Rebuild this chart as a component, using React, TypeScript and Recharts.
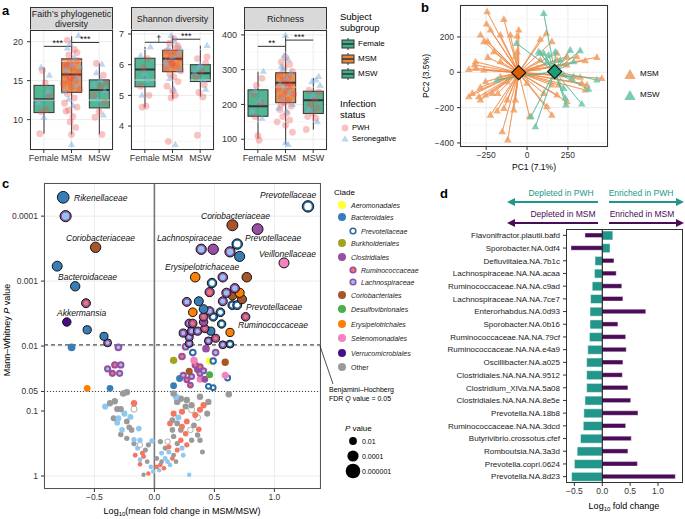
import React from "react";
import {
  ComposedChart,
  ScatterChart,
  BarChart,
  Bar,
  Scatter,
  XAxis,
  YAxis,
  CartesianGrid,
  ReferenceLine,
  ReferenceDot,
} from "recharts";

const FONT = "'Liberation Sans', Arial, Helvetica, sans-serif";
const minus = (v: number, d = 0) => v.toFixed(d).replace("-", "\u2212");

// ---------- panel a ----------
const groups = ["Female", "MSM", "MSW"];
const groupColors = ["#3FAE8A", "#E5883A", "#3FAE8A"];
// [lower whisker, q1, median, q3, upper whisker]
const faithStats = [
  [8.2, 10.9, 12.6, 14.4, 16.7],
  [8.1, 13.5, 15.8, 17.8, 20.7],
  [8.1, 11.5, 13.8, 15.1, 17.2],
];
const shannonStats = [
  [4.61, 5.28, 5.84, 6.21, 6.58],
  [4.89, 5.77, 6.19, 6.48, 6.95],
  [4.96, 5.45, 5.72, 6.0, 6.62],
];
const richnessStats = [
  [103, 166, 195, 242, 294],
  [85, 205, 262, 291, 398],
  [128, 174, 212, 238, 276],
];
// jittered subjects: [group position, value]
const faithPwh = [
  [0.95, 16.3], [1.1, 11.3], [0.9, 11.0], [0.85, 8.2], [1.2, 13.1], [1.05, 14.7],
  [1.85, 20.2], [2.1, 19.0], [1.9, 18.3], [2.2, 17.6], [1.75, 17.0], [2.05, 16.6], [2.25, 16.1],
  [1.8, 15.7], [1.95, 15.3], [2.15, 15.0], [1.7, 14.6], [2.0, 14.2], [2.3, 13.9], [1.85, 13.3],
  [2.1, 12.8], [1.75, 12.1], [2.2, 11.6], [1.9, 11.2], [1.8, 11.1], [2.05, 10.4], [1.95, 9.7],
  [2.15, 9.0], [2.0, 8.1], [1.85, 16.9], [2.1, 15.6], [1.95, 17.3], [2.2, 18.6], [1.9, 14.9],
  [2.9, 17.2], [3.15, 15.7], [3.05, 14.2], [2.8, 13.1], [3.2, 12.2], [3.0, 11.0], [2.85, 10.3],
  [3.1, 8.1], [3.25, 14.8],
];
const faithSero = [
  [0.9, 16.7], [1.15, 13.6], [0.8, 12.2], [1.0, 10.3], [1.2, 15.7],
  [2.25, 20.8], [1.95, 19.7], [2.1, 18.0], [1.8, 16.4], [2.2, 15.3], [2.0, 17.0], [1.75, 13.6],
  [2.15, 14.4], [1.9, 12.6], [2.05, 11.8], [1.85, 19.2], [2.0, 6.8], [2.3, 16.8],
  [3.1, 17.1], [2.9, 16.0], [3.2, 13.7], [2.95, 12.5], [3.05, 15.1], [2.8, 14.5], [3.15, 10.6],
];
const shannonPwh = [
  [1.1, 6.2], [0.95, 5.9], [0.85, 5.3], [1.15, 5.0], [0.9, 4.62], [1.05, 4.65],
  [2.05, 6.85], [1.9, 6.7], [2.2, 6.6], [1.8, 6.45], [2.1, 6.4], [1.95, 6.3], [2.25, 6.2],
  [1.85, 6.15], [2.0, 6.05], [2.15, 5.95], [1.75, 5.9], [2.3, 5.8], [1.9, 5.7], [2.05, 5.6],
  [2.2, 5.45], [1.8, 5.3], [2.0, 5.15], [2.1, 5.0], [1.95, 4.92], [1.85, 3.5], [2.15, 6.55],
  [1.95, 6.0],
  [2.9, 6.2], [3.2, 6.05], [3.05, 5.8], [2.85, 5.6], [3.15, 5.35], [2.95, 5.1], [3.1, 4.95],
  [2.9, 3.7], [3.25, 6.25],
];
const shannonSero = [
  [1.2, 6.58], [0.85, 6.3], [1.0, 5.7], [1.1, 5.5], [0.9, 5.0],
  [1.95, 6.95], [2.1, 6.75], [1.85, 6.55], [2.2, 6.35], [2.0, 6.25], [1.8, 6.0], [2.25, 5.85],
  [1.9, 5.55], [2.05, 5.2], [2.1, 3.4], [2.3, 6.5], [1.75, 6.1],
  [3.25, 6.62], [3.0, 6.0], [2.8, 5.75], [3.1, 5.5], [2.95, 5.9], [3.2, 5.2],
];
const richnessPwh = [
  [1.15, 275], [0.95, 255], [0.85, 230], [1.1, 205], [0.9, 165], [1.0, 110], [1.05, 97],
  [2.0, 335], [1.85, 322], [2.15, 315], [1.95, 305], [2.25, 295], [1.8, 285], [2.1, 278],
  [1.9, 270], [2.05, 262], [2.2, 255], [1.75, 245], [2.0, 238], [2.3, 230], [1.85, 222],
  [2.1, 212], [1.95, 205], [2.2, 195], [1.8, 185], [2.05, 175], [1.9, 165], [2.15, 155],
  [1.7, 150], [2.0, 140], [2.25, 120], [1.85, 200], [2.1, 250],
  [2.85, 240], [3.2, 235], [3.05, 215], [2.9, 200], [3.15, 190], [3.0, 175], [2.8, 165],
  [3.1, 160], [2.75, 128],
];
const richnessSero = [
  [1.2, 295], [0.9, 240], [1.05, 210], [0.8, 180], [1.15, 160],
  [2.0, 398], [1.95, 340], [2.1, 330], [1.85, 310], [2.2, 290], [2.05, 275], [1.8, 260],
  [1.95, 248], [2.15, 235], [1.9, 215], [2.25, 200], [1.75, 190], [2.05, 180], [2.0, 90],
  [2.1, 85], [1.9, 300],
  [3.2, 280], [3.1, 270], [2.95, 265], [3.25, 255], [3.0, 225], [2.85, 185], [3.15, 150],
];

// ---------- panel b ----------
const msmPcoa = [
  [-244, 343], [-142, 300], [-51, 240], [-248, 274], [-224, 240], [-285, 211], [-163, 211],
  [-102, 211], [-61, 206], [-264, 174], [-240, 174], [-203, 117], [-240, 85], [-315, 60],
  [-321, 42], [-356, 17], [-163, 60], [-71, 89], [-61, 117], [-254, -53], [-285, -85],
  [-356, -138], [-335, -119], [-295, -138], [-285, -157], [-254, -128], [-213, -119],
  [-179, -119], [-122, -157], [-224, -242], [-183, -219], [-142, -204], [-81, -213],
  [-71, -157], [-152, -336], [-118, -383], [16, -251], [152, -242], [122, -194], [183, -128],
  [244, -166], [102, -119], [152, -72], [193, -72], [224, -15], [285, -25], [335, -62],
  [366, -72], [356, -100], [325, -28], [427, 85], [457, -34], [356, 66], [305, 89], [244, 89],
  [183, 108], [152, 174], [118, 221], [81, 187], [183, 70], [81, 70], [61, 23], [0, -62],
  [244, 42], [-264, 13], [-315, 23], [-163, -25], [-122, -53],
];
const mswPcoa = [
  [102, 334], [-65, 164], [71, 117], [102, 108], [132, 98], [173, 117], [203, 70], [264, 126],
  [325, 123], [285, 60], [427, -43], [376, -96], [335, -179], [238, -185], [234, -147],
  [51, -308], [24, -251], [-183, -43], [274, -34], [122, 60], [81, 108], [224, -91],
];
const msmCentroid = [-51, -2];
const mswCentroid = [169, 4];

// ---------- panel c ----------
// [log10 fold change, -log10 P, clade]
const volcanoPts: [number, number, string][] = [
  [-0.76, 4.29, "bac"], [-0.74, 4.0, "lac"], [-0.49, 3.52, "cor"], [-0.81, 3.23, "bac"],
  [-0.66, 2.92, "bac"], [-0.57, 2.66, "rum"], [-0.73, 2.37, "ver"], [-0.56, 2.25, "bac"],
  [-0.42, 2.15, "bac"], [-0.39, 2.05, "lac"],
  [-0.3, 1.98, "lac"], [-0.69, 1.98, "bac"], [-0.39, 1.65, "lac"], [-0.33, 1.71, "rum"],
  [-0.28, 1.71, "lac"], [-0.35, 1.58, "rum"], [-0.29, 1.58, "lac"], [-0.56, 1.35, "ery"],
  [-0.37, 1.35, "bac"],
  [1.28, 4.15, "prev"], [0.65, 3.86, "cor"], [0.86, 3.8, "clos"], [0.39, 3.49, "lac"],
  [0.49, 3.49, "clos"], [0.69, 3.57, "prev"], [0.63, 3.45, "lac"], [0.71, 3.38, "bac"],
  [1.08, 3.28, "sel"], [0.34, 3.06, "ery"], [0.57, 3.06, "lac"], [0.77, 3.06, "cor"],
  [0.48, 2.97, "prev"], [0.46, 2.83, "rum"], [0.67, 2.89, "lac"], [0.6, 2.82, "lac"],
  [0.71, 2.82, "ery"], [0.65, 2.78, "cor"], [0.73, 2.72, "cor"], [0.27, 2.68, "lac"],
  [0.37, 2.69, "bac"], [0.57, 2.69, "lac"], [0.65, 2.63, "prev"], [0.69, 2.63, "prev"],
  [0.41, 2.57, "bac"], [0.32, 2.52, "ery"], [0.46, 2.54, "lac"], [0.55, 2.52, "prev"],
  [0.41, 2.45, "rum"], [0.49, 2.45, "prev"], [0.76, 2.45, "rum"], [0.29, 2.35, "lac"],
  [0.32, 2.35, "rum"], [0.41, 2.37, "clos"], [0.56, 2.34, "prev"], [0.31, 2.23, "lac"],
  [0.36, 2.23, "lac"], [0.42, 2.27, "rum"], [0.47, 2.23, "bac"], [0.63, 2.21, "ery"],
  [0.51, 2.12, "rum"], [0.29, 2.14, "lac"], [0.24, 2.2, "lac"], [0.45, 2.08, "lac"],
  [0.29, 2.04, "lac"], [0.57, 2.02, "lac"], [0.63, 2.03, "prev"],
  [0.26, 1.99, "lac"], [0.43, 1.96, "clos"], [0.51, 1.9, "lac"], [0.32, 1.9, "prev"],
  [0.16, 1.78, "burk"], [0.23, 1.84, "rum"], [0.33, 1.78, "sel"], [0.46, 1.77, "aer"],
  [0.49, 1.77, "prev"], [0.59, 1.75, "cor"], [0.34, 1.71, "rum"], [0.38, 1.68, "rum"],
  [0.41, 1.62, "lac"], [0.36, 1.64, "clos"], [0.29, 1.61, "cor"], [0.24, 1.55, "lac"],
  [0.46, 1.56, "des"], [0.38, 1.49, "sel"], [0.59, 1.55, "sel"], [0.61, 1.51, "prev"],
  [0.16, 1.39, "bac"], [0.21, 1.5, "bac"], [0.3, 1.4, "rum"], [0.45, 1.38, "prev"],
  [0.49, 1.36, "prev"], [0.42, 1.49, "clos"], [0.27, 1.48, "rum"], [0.31, 1.53, "lac"],
  [0.38, 1.58, "lac"],
  [-0.23, 1.29, "oth"], [-0.26, 1.27, "oth"], [-0.33, 1.15, "oth"], [-0.41, 1.07, "lac"],
  [-0.37, 1.12, "oth"], [-0.31, 1.03, "oth"], [-0.28, 1.03, "oth"], [-0.25, 0.96, "lac"],
  [-0.34, 0.89, "oth"], [-0.31, 0.82, "lac"], [-0.23, 0.84, "oth"], [-0.21, 0.75, "oth"],
  [-0.17, 1.12, "rum"], [-0.17, 1.03, "prev"], [-0.13, 0.73, "lac"], [-0.28, 0.64, "oth"],
  [-0.23, 0.58, "oth"], [-0.17, 0.56, "lac"], [-0.12, 0.55, "lac"], [-0.05, 0.48, "oth"],
  [-0.17, 0.5, "oth"], [-0.12, 0.48, "prev"], [-0.14, 0.43, "lac"], [-0.1, 0.35, "rum"],
  [-0.09, 0.3, "rum"], [-0.06, 0.22, "oth"], [-0.12, 0.18, "rum"], [-0.12, 0.25, "lac"],
  [-0.03, 0.14, "lac"], [-0.01, 0.07, "lac"], [0.04, 0.09, "lac"], [-0.05, 0.04, "rum"],
  [-0.09, 0.02, "oth"], [-0.02, 0.54, "lac"], [-0.2, 0.91, "lac"], [-0.19, 0.71, "oth"],
  [-0.3, 0.89, "lac"], [-0.27, 0.71, "lac"], [-0.16, 0.32, "rum"], [-0.075, 0.4, "oth"],
  [0.16, 1.27, "oth"], [0.18, 1.22, "lac"], [0.19, 1.14, "oth"], [0.22, 1.19, "oth"],
  [0.27, 1.17, "oth"], [0.31, 1.09, "oth"], [0.38, 1.22, "oth"], [0.45, 1.14, "oth"],
  [0.31, 1.02, "prev"], [0.36, 0.9, "prev"], [0.38, 1.02, "rum"], [0.23, 0.99, "rum"],
  [0.16, 0.96, "rum"], [0.15, 0.86, "oth"], [0.19, 0.81, "oth"], [0.23, 0.76, "rum"],
  [0.27, 0.84, "rum"], [0.3, 0.71, "prev"], [0.36, 0.63, "oth"], [0.38, 0.55, "oth"],
  [0.15, 0.71, "oth"], [0.16, 0.61, "oth"], [0.11, 0.53, "prev"], [0.22, 0.55, "rum"],
  [0.05, 0.53, "oth"], [0.12, 0.45, "rum"], [0.09, 0.43, "oth"], [0.19, 0.4, "rum"],
  [0.23, 0.43, "lac"], [0.16, 0.32, "oth"], [0.09, 0.27, "lac"], [0.06, 0.22, "oth"],
  [0.05, 0.17, "rum"], [0.13, 0.17, "lac"], [0.02, 0.14, "rum"], [0.29, 0.02, "lac"],
  [0.4, 0.37, "oth"], [0.24, 0.32, "lac"], [0.15, 0.27, "rum"], [0.26, 1.07, "oth"],
  [0.34, 0.94, "rum"], [0.41, 1.09, "rum"], [0.44, 0.96, "oth"], [0.2, 0.9, "lac"],
  [0.26, 0.65, "rum"], [0.31, 0.55, "oth"], [0.19, 0.5, "oth"], [0.27, 0.48, "rum"],
  [0.06, 0.35, "lac"], [0.11, 0.22, "lac"], [0.08, 0.12, "rum"], [0.18, 0.22, "oth"],
  [0.22, 0.71, "oth"], [0.13, 0.81, "rum"], [0.33, 0.78, "oth"], [0.37, 0.72, "rum"],
  [0.02, 0.27, "oth"], [0.12, 0.37, "lac"], [0.62, 1.26, "oth"],
];
const pTicks = [1, 0.1, 0.05, 0.01, 0.001, 0.0001];
const fdrP = 0.0096;

const clades: Record<string, { name: string; fill: string; center?: string; sub?: boolean }> = {
  aer: { name: "Aeromonadales", fill: "#FFFF33" },
  bac: { name: "Bacteroidales", fill: "#377EB8" },
  prev: { name: "Prevotellaceae", fill: "#2B6CA3", center: "#FFFFFF", sub: true },
  burk: { name: "Burkholderiales", fill: "#A2A41E" },
  clos: { name: "Clostridiales", fill: "#984EA3" },
  rum: { name: "Ruminococcaceae", fill: "#984EA3", center: "#F47560", sub: true },
  lac: { name: "Lachnospiraceae", fill: "#984EA3", center: "#8EC8F0", sub: true },
  cor: { name: "Coriobacteriales", fill: "#A65628" },
  des: { name: "Desulfovibrionales", fill: "#4DAF4A" },
  ery: { name: "Erysipelotrichales", fill: "#FF7F00" },
  sel: { name: "Selenomonadales", fill: "#F781BF" },
  ver: { name: "Verrucomicrobiales", fill: "#4A0D8A" },
  oth: { name: "Other", fill: "#9A9A9A" },
};
const cladeOrder = ["aer", "bac", "prev", "burk", "clos", "rum", "lac", "cor", "des", "ery", "sel", "ver", "oth"];
const sizeLegendP = [0.01, 0.0001, 0.000001];

// ---------- panel d ----------
const dTaxa = [
  "Flavonifractor.plautii.bafd", "Sporobacter.NA.0df4", "Defluviitalea.NA.7b1c",
  "Lachnospiraceae.NA.NA.acaa", "Ruminococcaceae.NA.NA.c9ad", "Lachnospiraceae.NA.NA.7ce7",
  "Enterorhabdus.NA.0d93", "Sporobacter.NA.0b16", "Ruminococcaceae.NA.NA.79cf",
  "Ruminococcaceae.NA.NA.e4a9", "Oscillibacter.NA.a025", "Clostridiales.NA.NA.NA.9512",
  "Clostridium_XlVa.NA.5a08", "Clostridiales.NA.NA.NA.8e5e", "Prevotella.NA.18b8",
  "Ruminococcaceae.NA.NA.3dcd", "Butyrivibrio.crossotus.cfef", "Romboutsia.NA.3a3d",
  "Prevotella.copri.0624", "Prevotella.NA.8d23",
];
const dPwh = [0.19, 0.14, -0.13, -0.14, -0.18, -0.21, -0.22, -0.22, -0.23, -0.26, -0.28, -0.28, -0.28, -0.31, -0.33, -0.34, -0.39, -0.45, -0.5, -0.55];
const dMsm = [-0.31, -0.56, 0.21, 0.25, 0.35, 0.37, 0.78, 0.28, 0.42, 0.43, 0.37, 0.36, 0.46, 0.51, 0.64, 0.42, 0.52, 0.46, 0.63, 1.31];

const TEAL = "#23968B";
const PURPLE = "#4A0B57";

// ---------- helpers ----------
const Txt = ({ x, y, children, size = 9, anchor = "start", italic = false, color = "#000", bold = false, rotate = false }: any) => {
  const tx = anchor === "middle" ? "-50%" : anchor === "end" ? "-100%" : "0";
  return (
    <div
      style={{
        position: "absolute",
        left: x,
        top: y,
        fontSize: size,
        fontStyle: italic ? "italic" : "normal",
        fontWeight: bold ? 700 : 400,
        color,
        whiteSpace: "nowrap",
        lineHeight: 1,
        transform: rotate ? "translate(-50%,-50%) rotate(-90deg)" : `translate(${tx},-50%)`,
      }}
    >
      {children}
    </div>
  );
};

const Frame = ({ left, top, width, height, color = "#333" }: any) => (
  <div style={{ position: "absolute", left, top, width, height, border: `1px solid ${color}`, boxSizing: "border-box", pointerEvents: "none" }} />
);

const triPath = (cx: number, cy: number, s: number) =>
  `M${cx},${cy - s} L${cx + s * 0.95},${cy + s * 0.65} L${cx - s * 0.95},${cy + s * 0.65} Z`;

const BoxShape = (p: any) => {
  const { x, y, width, height } = p;
  const d = p.payload || p;
  const top = Math.min(y, y + height);
  const h = Math.abs(height);
  const my = top + (h * (d.q3 - d.med)) / (d.q3 - d.q1);
  return (
    <g>
      <rect x={x} y={top} width={width} height={h} fill={d.fill} fillOpacity={0.9} stroke="#333" strokeWidth={1} />
      <line x1={x} x2={x + width} y1={my} y2={my} stroke="#333" strokeWidth={2} />
    </g>
  );
};

const WhiskerShape = (p: any) => {
  const { x, y, width, height } = p;
  const top = Math.min(y, y + height);
  const cx = x + width / 2;
  return <line x1={cx} x2={cx} y1={top} y2={top + Math.abs(height)} stroke="#333" strokeWidth={1} />;
};

const PwhDot = (p: any) => <circle cx={p.cx} cy={p.cy} r={3.4} fill="#EE4A4A" fillOpacity={0.33} />;
const SeroTri = (p: any) => <path d={triPath(p.cx, p.cy, 3.8)} fill="#7FAEDF" fillOpacity={0.5} />;

// plot area of every facet in panel a
const A_TOP = 30;
const A_BOTTOM = 150;

const Facet = ({ left, title, stats, pwh, sero, domain, ticks, minor, sig }: any) => {
  const data = groups.map((g, i) => ({
    group: g,
    whisk: [stats[i][0], stats[i][4]],
    box: [stats[i][1], stats[i][3]],
    q1: stats[i][1],
    med: stats[i][2],
    q3: stats[i][3],
    fill: groupColors[i],
  }));
  const pwhPts = pwh.map(([x, y]: number[]) => ({ x, y }));
  const seroPts = sero.map(([x, y]: number[]) => ({ x, y }));
  return (
    <>
      <div
        style={{
          position: "absolute",
          left: left + 30,
          top: 7,
          width: 83,
          height: A_TOP - 7 + 1,
          background: "#D9D9D9",
          border: "1px solid #333",
          boxSizing: "border-box",
          fontSize: 9,
          lineHeight: "10px",
          textAlign: "center",
          display: "flex",
          flexDirection: "column",
          justifyContent: "center",
          color: "#1a1a1a",
        }}
      >
        {title.map((t: string) => (
          <div key={t}>{t}</div>
        ))}
      </div>
      <div style={{ position: "absolute", left, top: 0 }}>
        <ComposedChart width={114} height={A_BOTTOM + 17} data={data} margin={{ top: A_TOP, right: 1, bottom: 0, left: 0 }}>
          <CartesianGrid xAxisId="cat" stroke="#EBEBEB" strokeWidth={1} />
          {minor.map((m: number) => (
            <ReferenceLine key={m} y={m} xAxisId="cat" stroke="#F3F3F3" strokeWidth={0.7} />
          ))}
          <XAxis
            xAxisId="cat"
            dataKey="group"
            type="category"
            interval={0}
            height={17}
            axisLine={false}
            tickSize={3}
            tickMargin={2}
            tickLine={{ stroke: "#333" }}
            tick={{ fontSize: 9, fill: "#333", fontFamily: FONT }}
          />
          <XAxis xAxisId="w" dataKey="group" type="category" hide />
          <XAxis xAxisId="num" dataKey="x" type="number" domain={[0.5, 3.5]} allowDataOverflow hide />
          <YAxis
            dataKey="y"
            type="number"
            domain={domain}
            ticks={ticks}
            allowDataOverflow
            width={30}
            axisLine={false}
            tickSize={3}
            tickMargin={4}
            tickLine={{ stroke: "#333" }}
            tick={{ fontSize: 9, fill: "#333", fontFamily: FONT }}
          />
          <Bar xAxisId="w" dataKey="whisk" barSize={20} shape={WhiskerShape} isAnimationActive={false} />
          <Bar xAxisId="cat" dataKey="box" barSize={20} shape={BoxShape} isAnimationActive={false} />
          <Scatter xAxisId="num" data={pwhPts} dataKey="y" shape={PwhDot} isAnimationActive={false} />
          <Scatter xAxisId="num" data={seroPts} dataKey="y" shape={SeroTri} isAnimationActive={false} />
          {sig.map((s: any) => (
            <ReferenceLine
              key={`l${s.from}`}
              xAxisId="num"
              segment={[
                { x: s.from, y: s.y },
                { x: s.to, y: s.y },
              ]}
              stroke="#333"
              strokeWidth={1}
            />
          ))}
          {sig.map((s: any) => (
            <ReferenceDot
              key={`d${s.from}`}
              xAxisId="num"
              x={(s.from + s.to) / 2}
              y={s.y}
              r={1}
              fill="none"
              stroke="none"
              label={{ value: s.label, position: "top", offset: -1, fontSize: 9, fill: "#111" }}
            />
          ))}
        </ComposedChart>
      </div>
      <Frame left={left + 30} top={A_TOP} width={83} height={A_BOTTOM - A_TOP} />
    </>
  );
};

const Spokes = (pts: number[][], c: number[]) => {
  const out: { x: number; y: number }[] = [];
  pts.forEach(([x, y]) => {
    out.push({ x: c[0], y: c[1] });
    out.push({ x, y });
  });
  return out;
};

const Empty = () => <g />;
const OrangeTri = (p: any) => <path d={triPath(p.cx, p.cy, 4)} fill="#F09A5A" fillOpacity={0.8} />;
const TealTri = (p: any) => <path d={triPath(p.cx, p.cy, 4)} fill="#66C2A5" fillOpacity={0.8} />;
const Diamond = (p: any) => (
  <path
    d={`M${p.cx},${p.cy - 7} L${p.cx + 7},${p.cy} L${p.cx},${p.cy + 7} L${p.cx - 7},${p.cy} Z`}
    fill={p.payload.fill}
    stroke="#111"
    strokeWidth={1.2}
  />
);

const VolcanoDot = (p: any) => {
  const { cx, cy, payload } = p;
  if (cx == null || cy == null) return <g />;
  const c = clades[payload.clade];
  const r = 2.2 + 0.85 * Math.max(payload.nlp, 0);
  if (payload.nlp < -Math.log10(0.05)) {
    const fill = c.center ?? c.fill;
    return (
      <circle cx={cx} cy={cy} r={r} fill={fill} stroke={fill === "#FFFFFF" ? "#999" : "none"} strokeWidth={0.8} />
    );
  }
  const outline = payload.nlp >= -Math.log10(fdrP);
  return (
    <g>
      <circle cx={cx} cy={cy} r={r} fill={c.fill} stroke={outline ? "#111" : "none"} strokeWidth={1} />
      {c.center && <circle cx={cx} cy={cy} r={Math.max(r - 2, 1)} fill={c.center} />}
    </g>
  );
};

const axisTick = { fontSize: 8.5, fill: "#333", fontFamily: FONT };

export default function App() {
  const msmSpokes = Spokes(msmPcoa, msmCentroid);
  const mswSpokes = Spokes(mswPcoa, mswCentroid);
  const volcano = volcanoPts
    .map(([fc, nlp, clade]) => ({ fc, nlp, clade }))
    .sort((a, b) => a.nlp - b.nlp);
  const pTickPos = pTicks.map((p) => -Math.log10(p));
  const dRows = dTaxa.map((name, i) => ({ name, pwh: dPwh[i], msm: dMsm[i] }));
  const legendY = [44, 59, 74];

  return (
    <div style={{ position: "absolute", left: 0, top: 0, width: 685, height: 519, background: "#fff", fontFamily: FONT, overflow: "hidden" }}>
      {/* panel a */}
      <Facet
        left={0}
        title={["Faith\u2019s phylogenetic", "diversity"]}
        stats={faithStats}
        pwh={faithPwh}
        sero={faithSero}
        domain={[6.1, 21.5]}
        ticks={[10, 15, 20]}
        minor={[7.5, 12.5, 17.5]}
        sig={[
          { from: 1, to: 2, y: 19.4, label: "***" },
          { from: 2, to: 3, y: 19.9, label: "***" },
        ]}
      />
      <Facet
        left={101}
        title={["Shannon diversity"]}
        stats={shannonStats}
        pwh={shannonPwh}
        sero={shannonSero}
        domain={[3.22, 7.13]}
        ticks={[4, 5, 6, 7]}
        minor={[3.5, 4.5, 5.5, 6.5]}
        sig={[
          { from: 1, to: 2, y: 6.73, label: "\u2020" },
          { from: 2, to: 3, y: 6.83, label: "***" },
        ]}
      />
      <Facet
        left={214}
        title={["Richness"]}
        stats={richnessStats}
        pwh={richnessPwh}
        sero={richnessSero}
        domain={[69, 414]}
        ticks={[100, 200, 300, 400]}
        minor={[150, 250, 350]}
        sig={[
          { from: 1, to: 2, y: 367, label: "**" },
          { from: 2, to: 3, y: 385, label: "***" },
        ]}
      />

      {/* panel b */}
      <div style={{ position: "absolute", left: 420, top: 0 }}>
        <ScatterChart width={189} height={161} margin={{ top: 5, right: 1, bottom: 0, left: 0 }}>
          <CartesianGrid stroke="#EBEBEB" />
          {[-375, -125, 125, 375].map((m) => (
            <ReferenceLine key={`x${m}`} x={m} stroke="#F3F3F3" strokeWidth={0.7} />
          ))}
          {[-300, -100, 100, 300].map((m) => (
            <ReferenceLine key={`y${m}`} y={m} stroke="#F3F3F3" strokeWidth={0.7} />
          ))}
          <XAxis
            type="number"
            dataKey="x"
            domain={[-410, 495]}
            ticks={[-250, 0, 250]}
            allowDataOverflow
            height={14}
            axisLine={false}
            tickSize={3}
            tickMargin={2}
            tickLine={{ stroke: "#333" }}
            tickFormatter={(v) => minus(v)}
            tick={axisTick}
          />
          <YAxis
            type="number"
            dataKey="y"
            domain={[-423, 381]}
            ticks={[-400, -200, 0, 200]}
            allowDataOverflow
            width={40}
            axisLine={false}
            tickSize={3}
            tickMargin={3}
            tickLine={{ stroke: "#333" }}
            tickFormatter={(v) => minus(v)}
            tick={axisTick}
          />
          <Scatter data={msmSpokes} shape={Empty} line={{ stroke: "#EE8A45", strokeWidth: 0.8, strokeOpacity: 0.75 }} isAnimationActive={false} />
          <Scatter data={msmPcoa.map(([x, y]) => ({ x, y }))} shape={OrangeTri} isAnimationActive={false} />
          <Scatter data={mswSpokes} shape={Empty} line={{ stroke: "#4DB893", strokeWidth: 0.8, strokeOpacity: 0.75 }} isAnimationActive={false} />
          <Scatter data={mswPcoa.map(([x, y]) => ({ x, y }))} shape={TealTri} isAnimationActive={false} />
          <Scatter
            data={[
              { x: msmCentroid[0], y: msmCentroid[1], fill: "#D95F02" },
              { x: mswCentroid[0], y: mswCentroid[1], fill: "#1B9E77" },
            ]}
            shape={Diamond}
            isAnimationActive={false}
          />
        </ScatterChart>
      </div>
      <Frame left={460} top={5} width={148} height={142} />

      {/* panel c */}
      <div style={{ position: "absolute", left: 0, top: 178 }}>
        <ScatterChart width={321} height={325} margin={{ top: 5, right: 1, bottom: 0, left: 0 }}>
          <CartesianGrid stroke="#EBEBEB" />
          <XAxis
            type="number"
            dataKey="fc"
            domain={[-0.92, 1.38]}
            ticks={[-0.5, 0, 0.5, 1]}
            allowDataOverflow
            height={14}
            axisLine={false}
            tickSize={3}
            tickMargin={2}
            tickLine={{ stroke: "#333" }}
            tickFormatter={(v) => minus(v, 1)}
            tick={axisTick}
          />
          <YAxis
            type="number"
            dataKey="nlp"
            domain={[-0.2, 4.51]}
            ticks={pTickPos}
            allowDataOverflow
            width={44}
            axisLine={false}
            tickSize={3}
            tickMargin={3}
            tickLine={{ stroke: "#333" }}
            tickFormatter={(v) => String(pTicks[pTickPos.findIndex((t) => Math.abs(t - v) < 1e-6)] ?? "")}
            tick={axisTick}
          />
          <ReferenceLine x={0} stroke="#777" strokeWidth={1.6} />
          <ReferenceLine y={-Math.log10(fdrP)} stroke="#222" strokeDasharray="4 3" />
          <ReferenceLine y={-Math.log10(0.05)} stroke="#444" strokeDasharray="1 2" />
          <Scatter data={volcano} shape={VolcanoDot} isAnimationActive={false} />
        </ScatterChart>
      </div>
      <Frame left={44} top={183} width={277} height={306} color="#555" />

      {/* panel d */}
      <div style={{ position: "absolute", left: 440, top: 224 }}>
        <BarChart layout="vertical" width={243} height={273} data={dRows} margin={{ top: 5, right: 1, bottom: 0, left: 0 }}>
          <XAxis
            type="number"
            domain={[-0.65, 1.43]}
            ticks={[-0.5, 0, 0.5, 1]}
            allowDataOverflow
            height={14}
            axisLine={false}
            tickSize={3}
            tickMargin={2}
            tickLine={{ stroke: "#333" }}
            tickFormatter={(v) => minus(v, 1)}
            tick={axisTick}
          />
          <YAxis
            yAxisId="a"
            type="category"
            dataKey="name"
            interval={0}
            width={126}
            axisLine={false}
            tickSize={3}
            tickMargin={3}
            tickLine={{ stroke: "#333" }}
            tick={{ fontSize: 8, fill: "#222", fontFamily: FONT }}
          />
          <YAxis yAxisId="b" type="category" dataKey="name" hide />
          <Bar yAxisId="a" dataKey="pwh" barSize={9} fill={TEAL} stroke="#fff" strokeWidth={0.5} isAnimationActive={false} />
          <Bar yAxisId="b" dataKey="msm" barSize={4.5} fill={PURPLE} stroke="#fff" strokeWidth={0.4} isAnimationActive={false} />
          <ReferenceLine x={0} yAxisId="a" stroke="#000" strokeWidth={1} />
        </BarChart>
      </div>
      <Frame left={566} top={229} width={117} height={254} />

      {/* overlay graphics */}
      <svg width={685} height={519} style={{ position: "absolute", left: 0, top: 0, pointerEvents: "none" }}>
        <defs>
          <marker id="ahT" markerWidth="8" markerHeight="8" refX="6" refY="4" orient="auto-start-reverse" markerUnits="userSpaceOnUse">
            <path d="M0,0 L8,4 L0,8 Z" fill={TEAL} />
          </marker>
          <marker id="ahP" markerWidth="8" markerHeight="8" refX="6" refY="4" orient="auto-start-reverse" markerUnits="userSpaceOnUse">
            <path d="M0,0 L8,4 L0,8 Z" fill={PURPLE} />
          </marker>
        </defs>
        <line x1={509} y1={202} x2={598} y2={202} stroke={TEAL} strokeWidth={2} markerStart="url(#ahT)" />
        <line x1={609} y1={202} x2={682} y2={202} stroke={TEAL} strokeWidth={2} markerEnd="url(#ahT)" />
        <line x1={509} y1={223} x2={598} y2={223} stroke={PURPLE} strokeWidth={2} markerStart="url(#ahP)" />
        <line x1={609} y1={223} x2={682} y2={223} stroke={PURPLE} strokeWidth={2} markerEnd="url(#ahP)" />
        {/* FDR leader */}
        <line x1={320} y1={346} x2={333} y2={384} stroke="#222" strokeWidth={0.8} />
        {/* legend a keys */}
        {legendY.map((y, i) => (
          <g key={y}>
            <line x1={348} x2={348} y1={y - 6} y2={y + 6} stroke="#333" />
            <rect x={342} y={y - 4} width={12} height={8} fill={groupColors[i]} stroke="#333" />
            <line x1={342} x2={354} y1={y} y2={y} stroke="#333" strokeWidth={1.5} />
          </g>
        ))}
        <circle cx={345} cy={128} r={3.4} fill="#EE4A4A" fillOpacity={0.33} />
        <path d={triPath(345, 139, 3.8)} fill="#7FAEDF" fillOpacity={0.5} />
        {/* legend b */}
        <path d={triPath(630, 75, 6)} fill="#F09A5A" fillOpacity={0.85} />
        <path d={triPath(630, 96, 6)} fill="#66C2A5" fillOpacity={0.85} />
        {/* legend c clade keys */}
        {cladeOrder.map((k, i) => {
          const c = clades[k];
          const ys = [205, 217, 231, 243, 257, 270, 282, 295, 309, 324, 338, 353, 367];
          const cx = c.sub ? 353 : 342;
          return c.sub ? (
            <g key={k}>
              <circle cx={cx} cy={ys[i]} r={3.6} fill={c.fill} />
              <circle cx={cx} cy={ys[i]} r={2} fill={c.center} />
            </g>
          ) : (
            <circle key={k} cx={cx} cy={ys[i]} r={4} fill={c.fill} />
          );
        })}
        {sizeLegendP.map((p, i) => (
          <circle key={p} cx={353} cy={[441, 456, 471][i]} r={2.2 + 0.85 * -Math.log10(p)} fill="#000" />
        ))}
      </svg>

      {/* panel letters */}
      <Txt x={2} y={10} size={13} bold>a</Txt>
      <Txt x={421} y={7} size={13} bold>b</Txt>
      <Txt x={2} y={183} size={13} bold>c</Txt>
      <Txt x={440} y={193} size={13} bold>d</Txt>

      {/* legend a */}
      <Txt x={340} y={17} size={9.5}>Subject</Txt>
      <Txt x={340} y={28} size={9.5}>subgroup</Txt>
      {groups.map((g, i) => (
        <Txt key={g} x={358} y={legendY[i]} size={8}>{g}</Txt>
      ))}
      <Txt x={340} y={104} size={9.5}>Infection</Txt>
      <Txt x={340} y={115} size={9.5}>status</Txt>
      <Txt x={352} y={128} size={7.5}>PWH</Txt>
      <Txt x={352} y={139} size={7.5}>Seronegative</Txt>

      {/* panel b titles and legend */}
      <Txt x={534} y={167} size={8.5} anchor="middle">PC1 (7.1%)</Txt>
      <Txt x={426} y={76} size={8.5} rotate>PC2 (3.5%)</Txt>
      <Txt x={640} y={74} size={8}>MSM</Txt>
      <Txt x={640} y={95} size={8}>MSW</Txt>

      {/* panel c labels */}
      {[
        ["Rikenellaceae", 74, 198],
        ["Coriobacteriaceae", 66, 238],
        ["Bacteroidaceae", 58, 277],
        ["Akkermansia", 57, 313],
        ["Prevotellaceae", 260, 195],
        ["Coriobacteriaceae", 201, 216],
        ["Lachnospiraceae", 157, 238],
        ["Prevotellaceae", 245, 238],
        ["Veillonellaceae", 259, 254],
        ["Erysipelotrichaceae", 165, 267],
        ["Prevotellaceae", 246, 307],
        ["Ruminococcaceae", 238, 325],
      ].map(([t, x, y]) => (
        <Txt key={`${t}${x}`} x={x} y={y} size={8.5} italic color="#111">{t}</Txt>
      ))}
      <Txt x={182} y={512} size={9} anchor="middle">
        Log<sub style={{ fontSize: 6 }}>10</sub>(mean fold change in MSM/MSW)
      </Txt>
      <Txt x={7} y={330} size={9} rotate>
        Mann–Whitney <i>P</i> value
      </Txt>
      <Txt x={329} y={389} size={7}>Benjamini–Hochberg</Txt>
      <Txt x={329} y={398} size={7}>
        FDR <i>Q</i> value = 0.05
      </Txt>

      {/* legend c */}
      <Txt x={334} y={193} size={8}>Clade</Txt>
      {cladeOrder.map((k, i) => {
        const c = clades[k];
        const ys = [205, 217, 231, 243, 257, 270, 282, 295, 309, 324, 338, 353, 367];
        return (
          <Txt key={k} x={c.sub ? 361 : 351} y={ys[i]} size={7} italic={k !== "oth"} color="#222">
            {c.name}
          </Txt>
        );
      })}
      <Txt x={345} y={429} size={8}>
        <i>P</i> value
      </Txt>
      {sizeLegendP.map((p, i) => (
        <Txt key={p} x={362} y={[441, 456, 471][i]} size={7}>
          {p === 0.000001 ? "0.000001" : String(p)}
        </Txt>
      ))}

      {/* panel d annotations */}
      <Txt x={561} y={193} size={8.5} anchor="middle" color={TEAL}>Depleted in PWH</Txt>
      <Txt x={641} y={193} size={8.5} anchor="middle" color={TEAL}>Enriched in PWH</Txt>
      <Txt x={563} y={214} size={8.5} anchor="middle" color={PURPLE}>Depleted in MSM</Txt>
      <Txt x={642} y={214} size={8.5} anchor="middle" color={PURPLE}>Enriched in MSM</Txt>
      <Txt x={624} y={507} size={9} anchor="middle">
        Log<sub style={{ fontSize: 6 }}>10</sub> fold change
      </Txt>
    </div>
  );
}
